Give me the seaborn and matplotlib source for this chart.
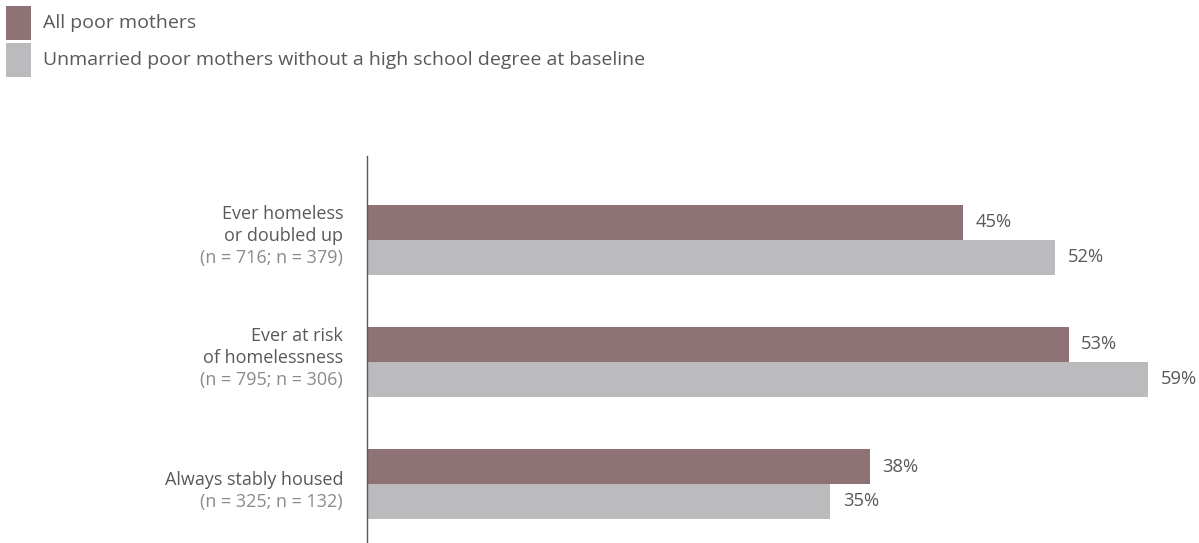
import matplotlib
matplotlib.use("Agg")
import matplotlib.pyplot as plt
import seaborn as sns
import pandas as pd
from matplotlib.patches import Rectangle

categories = ["Ever homeless\nor doubled up", "Ever at risk\nof homelessness", "Always stably housed"]
sample_sizes = ["(n = 716; n = 379)", "(n = 795; n = 306)", "(n = 325; n = 132)"]
series = ["All poor mothers", "Unmarried poor mothers without a high school degree at baseline"]
all_poor = [45, 53, 38]
unmarried = [52, 59, 35]

colors = ["#8f7275", "#bbbbbd"]
text_color = "#58595b"
n_color = "#8a8a8c"

sns.set_theme(style="white")
plt.rcParams["font.family"] = ["Open Sans", "DejaVu Sans"]

df = pd.DataFrame({
    "category": categories * 2,
    "value": all_poor + unmarried,
    "series": [series[0]] * 3 + [series[1]] * 3,
})

fig = plt.figure(figsize=(11.99, 5.43), dpi=100)
ax = fig.add_axes([367 / 1199, 0.0, 1 - 367 / 1199, 1 - 156 / 543])

sns.barplot(data=df, y="category", x="value", hue="series", order=categories,
            hue_order=series, palette=colors, width=70 / 122, gap=0,
            orient="h", ax=ax, legend=False, saturation=1, linewidth=0)

ax.set_xlim(0, (1199 - 367) / 13.24)
ax.set_ylim(2 + 59 / 122, -84 / 122)
ax.set_xlabel("")
ax.set_ylabel("")
ax.set_xticks([])
ax.set_yticks([])
for s in ["top", "right", "bottom"]:
    ax.spines[s].set_visible(False)
ax.spines["left"].set_color(text_color)
ax.spines["left"].set_linewidth(1.0)

for cont in ax.containers:
    ax.bar_label(cont, labels=[f"{int(v)}%" for v in cont.datavalues],
                 padding=9, color=text_color, fontsize=13.2)

line_px = 22
for i, (cat, n) in enumerate(zip(categories, sample_sizes)):
    lines = cat.split("\n")
    for k, line in enumerate(lines):
        dy = (len(lines) - 1 - k) * line_px
        ax.annotate(line, xy=(0, i), xycoords=("axes fraction", "data"),
                    xytext=(-24, dy - 1), textcoords="offset pixels",
                    ha="right", va="baseline", color=text_color, fontsize=13)
    ax.annotate(n, xy=(0, i), xycoords=("axes fraction", "data"),
                xytext=(-24, -1 - line_px), textcoords="offset pixels",
                ha="right", va="baseline", color=n_color, fontsize=13)

# legend
for j, (lab, c) in enumerate(zip(series, colors)):
    y0 = 1 - (6 + j * 37 + 34) / 543
    fig.add_artist(Rectangle((6 / 1199, y0), 25 / 1199, 34 / 543,
                             transform=fig.transFigure, color=c, lw=0))
    fig.text(43 / 1199, y0 + 17 / 543, lab, ha="left", va="center",
             color=text_color, fontsize=14)

fig.savefig("out.png", dpi=100)
